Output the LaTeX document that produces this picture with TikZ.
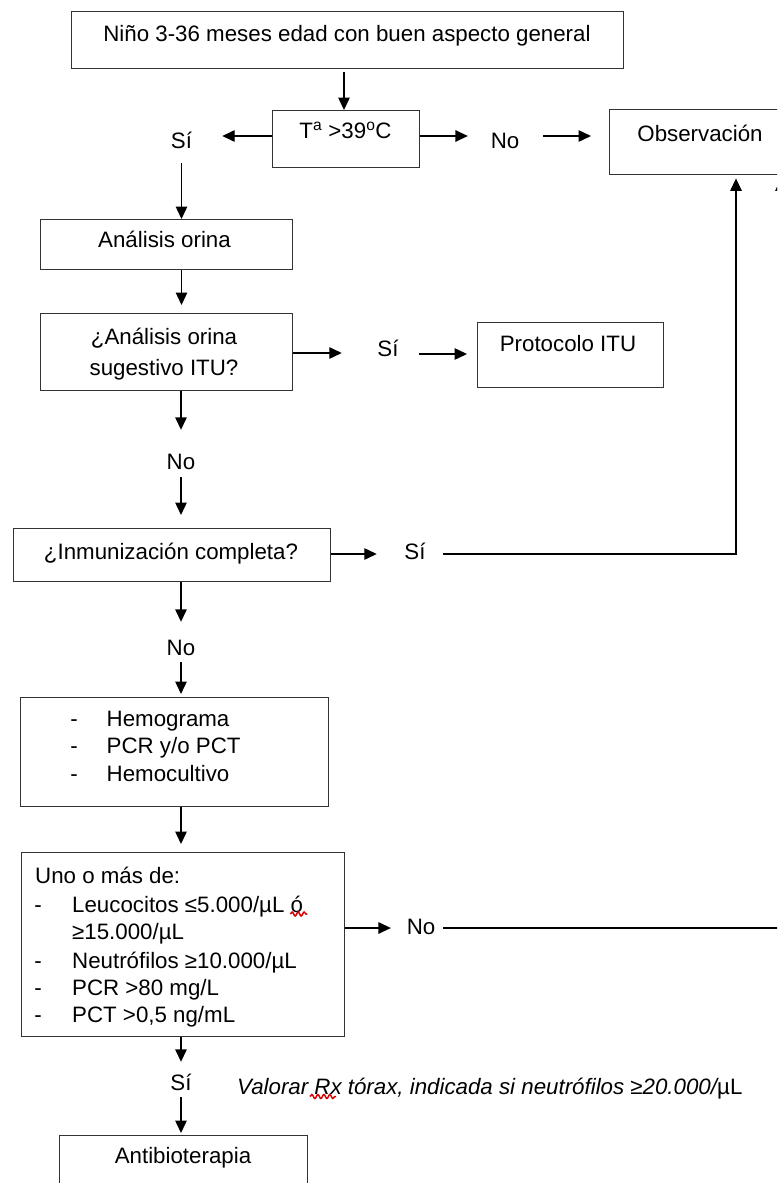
\documentclass[tikz,border=0pt]{standalone}
\usepackage{fontspec}
\setmainfont{Liberation Sans}
\usetikzlibrary{arrows.meta,decorations.pathmorphing}
\begin{document}
\begin{tikzpicture}[x=1pt,y=-1pt,
  every node/.style={font=\fontsize{22.3pt}{27pt}\selectfont, text=black},
  box/.style={draw=black!80, line width=1.4pt, inner sep=0pt, anchor=north west},
  txt/.style={inner sep=0pt, anchor=base},
  ltxt/.style={inner sep=0pt, anchor=base west},
  lbl/.style={inner sep=0pt, text height=16pt, text depth=0pt},
  arr/.style={draw=black, line width=1.4pt, -{Triangle[length=12.5pt,width=11.5pt]}},
  squig/.style={draw=red!85!black, line width=1.5pt, decorate, decoration={snake, segment length=6pt, amplitude=2pt}}
]
\useasboundingbox (0,0) rectangle (777,1183);
\fill[white] (0,0) rectangle (777,1183);
\clip (0,0) rectangle (777,1183);

% boxes
\node[box, minimum width=552pt, minimum height=57pt] (b_top) at (71,11) {};
\node[box, minimum width=147pt, minimum height=57pt] (b_temp) at (272,110) {};
\node[box, minimum width=186pt, minimum height=65pt] (b_obs) at (609,109) {};
\node[box, minimum width=252pt, minimum height=50pt] (b_an) at (40,219) {};
\node[box, minimum width=252pt, minimum height=77pt] (b_q1) at (40,313) {};
\node[box, minimum width=186pt, minimum height=65pt] (b_itu) at (477,322) {};
\node[box, minimum width=317pt, minimum height=53pt] (b_imm) at (13,528) {};
\node[box, minimum width=308pt, minimum height=109pt] (b_hem) at (20,697) {};
\node[box, minimum width=323pt, minimum height=184pt] (b_uno) at (21,852) {};
\node[box, minimum width=248pt, minimum height=90pt] (b_ab) at (59,1135) {};

% box texts
\node[txt] (t_top) at (347,41.5) {Niño 3-36 meses edad con buen aspecto general};
\node[txt] (t_temp) at (345.5,138) {T\textsuperscript{a} >39\textsuperscript{o}C};
\node[txt] (t_obs) at (700,141) {Observación};
\node[txt] (t_an) at (164.5,247.5) {Análisis orina};
\node[txt] (t_q1a) at (164,344.3) {¿Análisis orina};
\node[txt] (t_q1b) at (164,375) {sugestivo ITU?};
\node[txt] (t_itu) at (568,351) {Protocolo ITU};
\node[txt] (t_imm) at (171,559.5) {¿Inmunización completa?};

\node[txt] (d_h1) at (74,726.5) {-};
\node[txt] (d_h2) at (74,753.5) {-};
\node[txt] (d_h3) at (74,781.5) {-};
\node[ltxt] (t_h1) at (106.5,726.5) {Hemograma};
\node[ltxt] (t_h2) at (106.5,753.5) {PCR y/o PCT};
\node[ltxt] (t_h3) at (106.5,781.5) {Hemocultivo};

\node[ltxt] (t_u0) at (35,883.5) {Uno o más de:};
\node[txt] (d_u1) at (38,912.5) {-};
\node[txt] (d_u3) at (38,968) {-};
\node[txt] (d_u4) at (38,995) {-};
\node[txt] (d_u5) at (38,1022) {-};
\node[ltxt] (t_u1) at (72,912.5) {Leucocitos ≤5.000/µL ó};
\node[ltxt] (t_u2) at (72,939.5) {≥15.000/µL};
\node[ltxt] (t_u3) at (72,968) {Neutrófilos ≥10.000/µL};
\node[ltxt] (t_u4) at (72,995) {PCR >80 mg/L};
\node[ltxt] (t_u5) at (72,1022) {PCT >0,5 ng/mL};

\node[txt] (t_ab) at (183,1163) {Antibioterapia};
\node[ltxt] (t_val) at (237,1094) {\itshape Valorar Rx tórax, indicada si neutrófilos ≥20.000/\upshape µL};

% branch labels
\node[lbl] (l_si1) at (181.5,140.3) {Sí};
\node[lbl] (l_no1) at (505,140) {No};
\node[lbl] (l_si2) at (388,348) {Sí};
\node[lbl] (l_no2) at (181,461.5) {No};
\node[lbl] (l_si3) at (415,551.5) {Sí};
\node[lbl] (l_no3) at (181,647.5) {No};
\node[lbl] (l_no4) at (421,926.5) {No};
\node[lbl] (l_si4) at (181,1082.5) {Sí};

% connectors
\draw[arr, shorten <=3pt] (b_top.south -| 344,0) -- (b_temp.north -| 344,0);
\draw[arr, shorten >=30pt] (b_temp.west |- 0,136) -- (l_si1.east |- 0,136);
\draw[arr, shorten <=14.7pt] (l_si1.south) -- (l_si1 |- b_an.north);
\draw[arr, shorten >=22.7pt] (b_temp.east |- 0,136) -- (l_no1.west |- 0,136);
\draw[arr, shorten <=23.7pt, shorten >=18pt] (l_no1.east |- 0,136) -- (b_obs.west |- 0,136);
\draw[arr, shorten >=8pt] (b_an.south -| l_si1) -- (b_q1.north -| l_si1);
\draw[arr, shorten >=35.5pt] (b_q1.east |- 0,353) -- (l_si2.west |- 0,353);
\draw[arr, shorten <=20.5pt, shorten >=10pt] (l_si2.east |- 0,354) -- (b_itu.west |- 0,354);
\draw[arr, shorten >=23.5pt] (b_q1.south -| l_no2) -- (l_no2.north);
\draw[arr, shorten <=7.5pt, shorten >=13pt] (l_no2.south) -- (l_no2 |- b_imm.north);
\draw[arr, shorten >=27.5pt] (b_imm.east |- 0,554) -- (l_si3.west |- 0,554);
\draw[arr, shorten <=17.5pt, shorten >=3pt] (l_si3.east |- 0,554) -| (b_obs.south -| 736,0);
\draw[arr, shorten >=17.5pt] (b_imm.south -| l_no3) -- (l_no3.north);
\draw[arr, shorten <=6.5pt, shorten >=3pt] (l_no3.south) -- (l_no3 |- b_hem.north);
\draw[arr, shorten >=8pt] (b_hem.south -| l_no3) -- (b_uno.north -| l_no3);
\draw[arr, shorten >=15.7pt] (b_uno.east |- 0,928) -- (l_no4.west |- 0,928);
\draw[arr, shorten <=7.7pt, shorten >=3pt] (l_no4.east |- 0,928) -| (b_obs.south -| 781,0);
\draw[arr, shorten >=12.5pt] (b_uno.south -| l_si4) -- (l_si4.north);
\draw[arr, shorten <=6.5pt, shorten >=2pt] (l_si4.south) -- (l_si4 |- b_ab.north);

% spell-check squiggles
\draw[squig] (t_u1.base east) ++(-13,1.5) -- ++(17,0);
\draw[squig] (t_val.base west) ++(73,2.5) -- ++(26,0);
\end{tikzpicture}
\end{document}
